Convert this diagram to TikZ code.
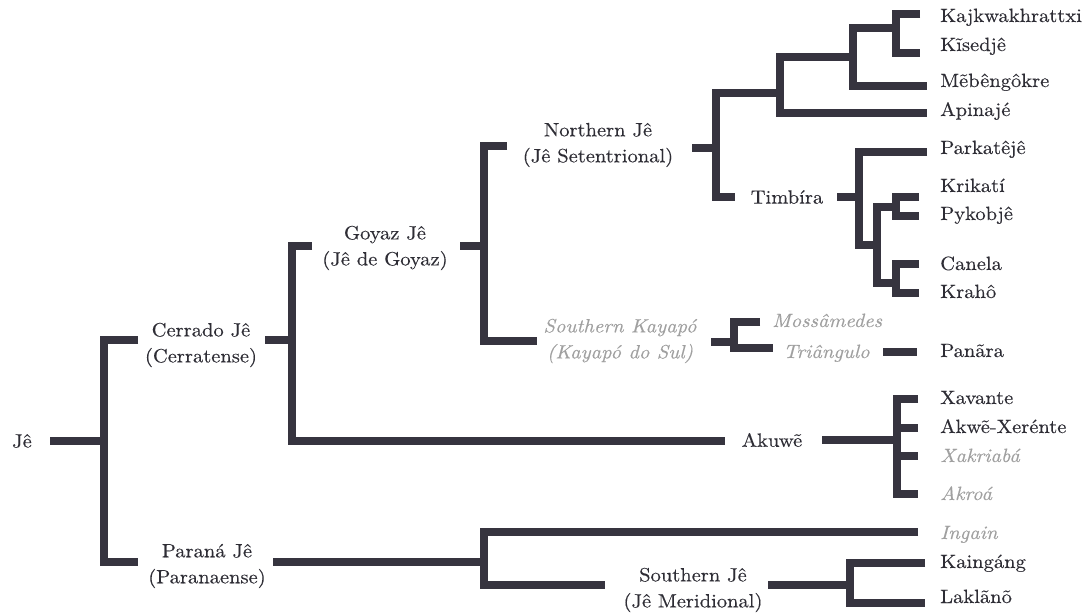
\documentclass[tikz,border=0pt]{standalone}
\usepackage{fontspec}
\setmainfont{lmroman10-regular.otf}[ItalicFont=lmroman10-italic.otf, FakeStretch=1.07, FakeBold=0.25]
\definecolor{linec}{HTML}{36343F}
\definecolor{textc}{HTML}{2E2D35}
\definecolor{greyc}{HTML}{A0A0A0}
\newcommand\labfont{\fontsize{14.4}{19.5}\selectfont}
\begin{document}
\begin{tikzpicture}[x=0.75pt,y=-0.75pt,
  br/.style={draw=linec, line width=6.7pt, line join=miter, line cap=butt},
  lab/.style={text=textc, font=\labfont, align=center, inner sep=0pt},
  ext/.style={text=greyc, font=\labfont\itshape, align=center, inner sep=0pt},
  leaf/.style={lab, anchor=base west},
  extleaf/.style={ext, anchor=base west}]
\useasboundingbox (0,0) rectangle (1086,614);
\fill[white] (0,0) rectangle (1086,614);

% labels
\node[lab] (je) at (22,441) {Jê};
\node[lab] (cerrado) at (201,345) {Cerrado Jê\\(Cerratense)};
\node[lab] (parana) at (207,566) {Paraná Jê\\(Paranaense)};
\node[lab] (goyaz) at (385,248) {Goyaz Jê\\(Jê de Goyaz)};
\node[lab] (northern) at (598,145) {Northern Jê\\(Jê Setentrional)};
\node[ext] (skayapo) at (620,341) {Southern Kayapó\\(Kayapó do Sul)};
\node[lab] (timbira) at (787,197) {Timbíra};
\node[lab] (akuwe) at (772,440) {Akuwẽ};
\node[lab] (southern) at (693,590) {Southern Jê\\(Jê Meridional)};
\node[extleaf] (mossamedes) at (772,327) {Mossâmedes};
\node[extleaf] (triangulo) at (783,358) {Triângulo};

\node[leaf] (kajk) at (940,22) {Kajkwakhrattxi};
\node[leaf] (kise) at (940,51) {Kĩsedjê};
\node[leaf] (mebe) at (940,87) {Mẽbêngôkre};
\node[leaf] (apin) at (940,116) {Apinajé};
\node[leaf] (park) at (940,154) {Parkatêjê};
\node[leaf] (krik) at (940,192) {Krikatí};
\node[leaf] (pyko) at (940,220) {Pykobjê};
\node[leaf] (cane) at (940,270) {Canela};
\node[leaf] (krah) at (940,298) {Krahô};
\node[leaf] (pana) at (940,357) {Panãra};
\node[leaf] (xava) at (940,404) {Xavante};
\node[leaf] (akwe) at (940,433) {Akwẽ-Xerénte};
\node[extleaf] (xakr) at (940,462) {Xakriabá};
\node[extleaf] (akro) at (940,500) {Akroá};
\node[extleaf] (inga) at (940,539) {Ingain};
\node[leaf] (kain) at (940,568) {Kaingáng};
\node[leaf] (lakl) at (940,603) {Laklãnõ};

% root
\draw[br] (50,441) -- (104,441);
\draw[br] (138,340) -| (104,562) -- (138,562);
% Cerrado
\draw[br] (265,340) -- (292,340);
\draw[br] (312,246) -| (292,441) -- (725,441);
% Goyaz
\draw[br] (460,246) -- (484,246);
\draw[br] (507,146) -| (484,341) -- (537,341);
% Northern
\draw[br] (692,148) -- (716,148);
\draw[br] (780,93) -| (716,197) -- (735,197);
\draw[br] (853,57) -| (780,113) -- (927,113);
\draw[br] (896,28) -| (853,86) -- (927,86);
\draw[br] (920,14) -| (896,53) -- (920,53);
% Timbira
\draw[br] (837,197) -- (859,197);
\draw[br] (927,152) -| (859,245) -- (877,245);
\draw[br] (896,207) -| (877,283) -- (896,283);
\draw[br] (919,197) -| (896,216) -- (919,216);
\draw[br] (919,264) -| (896,293) -- (919,293);
% Southern Kayapo
\draw[br] (711,342) -- (734,342);
\draw[br] (760,322) -| (734,348) -- (773,348);
\draw[br] (883,352) -- (917,352);
% Akuwe
\draw[br] (822,440) -- (897,440);
\draw[br] (918,399) -| (897,494) -- (918,494);
\draw[br] (897,428) -- (918,428);
\draw[br] (897,456) -- (918,456);
% Parana
\draw[br] (273,562) -- (484,562);
\draw[br] (918,532) -| (484,585) -- (605,585);
\draw[br] (768,585) -- (850,585);
\draw[br] (925,563) -| (850,603) -- (925,603);
\end{tikzpicture}
\end{document}
